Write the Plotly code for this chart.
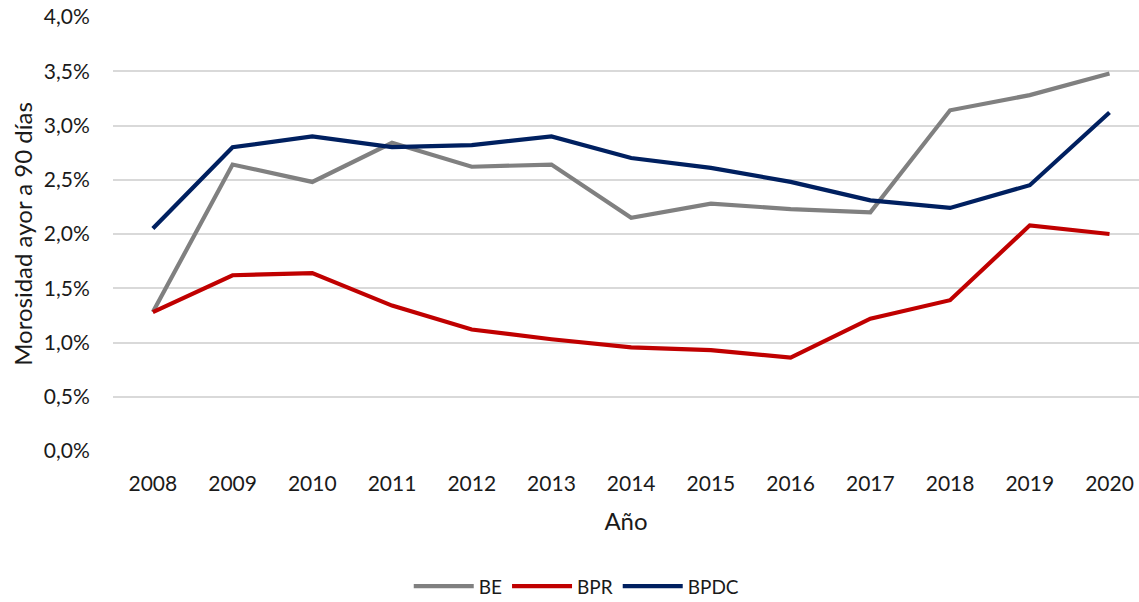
import plotly.graph_objects as go

years = ["2008", "2009", "2010", "2011", "2012", "2013", "2014",
         "2015", "2016", "2017", "2018", "2019", "2020"]

be = [1.28, 2.64, 2.48, 2.84, 2.62, 2.64, 2.15, 2.28, 2.23, 2.20, 3.14, 3.28, 3.48]
bpr = [1.28, 1.62, 1.64, 1.34, 1.12, 1.03, 0.955, 0.93, 0.86, 1.22, 1.39, 2.08, 2.00]
bpdc = [2.05, 2.80, 2.90, 2.80, 2.82, 2.90, 2.70, 2.61, 2.48, 2.31, 2.24, 2.45, 3.12]

series = [
    ("BE", be, "#808080"),
    ("BPR", bpr, "#C00000"),
    ("BPDC", bpdc, "#002060"),
]

font_family = "Lato, 'Open Sans', sans-serif"

fig = go.Figure()
xs = list(range(len(years)))
for name, vals, color in series:
    fig.add_trace(go.Scatter(
        x=xs,
        y=[v / 100 for v in vals],
        mode="lines",
        name=name,
        line=dict(color=color, width=4.2),
    ))

fig.update_layout(
    width=1139,
    height=602,
    margin=dict(l=113, r=0, t=17, b=151, autoexpand=False),
    paper_bgcolor="white",
    plot_bgcolor="white",
    separators=",.",
    font=dict(family=font_family, size=21, color="#1a1a1a"),
    showlegend=True,
    legend=dict(
        orientation="h",
        yref="container",
        x=0.452, xanchor="center",
        y=0.026, yanchor="middle",
        font=dict(size=19),
        itemwidth=60,
        tracegroupgap=0,
    ),
    xaxis=dict(
        tickmode="array",
        tickvals=xs,
        ticktext=years,
        range=[-0.5, 12.37],
        showgrid=False,
        zeroline=False,
        showline=False,
        ticks="outside",
        ticklen=14,
        tickcolor="rgba(0,0,0,0)",
        title=dict(text="Año", font=dict(size=24), standoff=18),
    ),
    yaxis=dict(
        range=[0, 0.04],
        dtick=0.005,
        tickformat=".1%",
        showgrid=True,
        gridcolor="#d9d9d9",
        gridwidth=2,
        zeroline=False,
        showline=False,
        ticks="outside",
        ticklen=18,
        tickcolor="rgba(0,0,0,0)",
        title=dict(text="Morosidad ayor a 90 días", font=dict(size=24), standoff=4),
    ),
)

fig.write_html("out.html")
